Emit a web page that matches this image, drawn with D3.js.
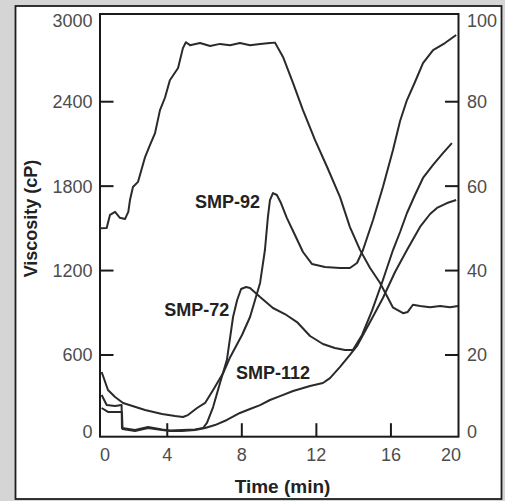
<!DOCTYPE html>
<html lang="en">

<head>
    <meta charset="UTF-8">
    <title>RVA viscosity profiles</title>
    <script src="https://d3js.org/d3.v7.min.js"></script>
    <style>
        html,
        body {
            margin: 0;
            padding: 0;
            background: #d5d5d5;
        }

        svg {
            display: block;
        }
    </style>
</head>

<body>
    <div class="content"></div>
    <script>
        // time (min), viscosity (cP)
        const smp92 = [
            [0.48, 479], [0.82, 351], [1.20, 301], [1.63, 259], [2.81, 209], [3.72, 181], [4.42, 166],
            [4.84, 159], [5.11, 173], [5.60, 223], [6.03, 259], [6.46, 351], [7.00, 472], [7.38, 586],
            [8.01, 742], [8.44, 870], [8.71, 991], [8.98, 1112], [9.24, 1346], [9.40, 1581], [9.51, 1701],
            [9.67, 1751], [9.88, 1737], [10.10, 1680], [10.42, 1573], [10.85, 1453], [11.28, 1332],
            [11.76, 1247], [12.46, 1225], [13.27, 1218], [13.80, 1218], [14.18, 1254], [14.50, 1346],
            [15.04, 1559], [15.57, 1794], [16.11, 2057], [16.49, 2263], [16.86, 2412], [17.29, 2540],
            [17.72, 2675], [18.26, 2767], [18.90, 2817], [19.50, 2874]
        ];
        const smp72 = [
            [0.48, 316], [0.75, 244], [1.20, 237], [1.55, 244], [1.57, 81], [2.27, 67], [2.97, 88],
            [3.72, 70], [4.15, 63], [4.79, 67], [5.49, 70], [5.92, 81], [6.13, 117], [6.46, 230],
            [6.83, 401], [7.20, 565], [7.53, 870], [7.75, 991], [7.96, 1069], [8.23, 1083], [8.44, 1076],
            [8.98, 1012], [9.67, 934], [10.31, 891], [10.96, 834], [11.66, 735], [12.35, 678],
            [12.99, 650], [13.53, 635], [13.96, 635], [14.45, 742], [14.98, 913], [15.57, 1133],
            [16.11, 1346], [16.49, 1474], [16.86, 1609], [17.29, 1737], [17.72, 1858], [18.26, 1951],
            [18.79, 2035], [19.27, 2106]
        ];
        const smp112 = [
            [0.48, 223], [0.82, 195], [1.46, 195], [1.57, 195], [1.60, 74], [2.27, 60], [2.97, 81],
            [3.72, 67], [4.15, 60], [4.79, 60], [5.49, 67], [6.03, 81], [6.56, 102], [7.20, 138],
            [7.90, 188], [8.44, 216], [8.98, 244], [9.51, 280], [10.05, 308], [10.75, 344], [11.66, 380],
            [12.35, 401], [12.73, 436], [13.27, 515], [13.80, 600], [14.18, 664], [14.88, 834],
            [15.57, 1005], [16.22, 1190], [16.86, 1346], [17.56, 1510], [18.10, 1602], [18.47, 1645],
            [19.01, 1680], [19.50, 1701]
        ];
        // temperature profile on the right-hand axis
        const temperature = [
            [0.39, 50.0], [0.75, 50.1], [0.93, 53.2], [1.20, 53.9], [1.46, 52.5], [1.73, 52.2],
            [1.91, 53.9], [2.00, 56.7], [2.16, 59.8], [2.43, 61.0], [2.81, 66.9], [3.07, 69.7],
            [3.34, 72.5], [3.61, 78.0], [3.88, 81.0], [4.14, 85.1], [4.58, 88.0], [4.84, 92.7],
            [5.00, 94.1], [5.22, 93.4], [5.76, 93.9], [6.30, 93.2], [6.83, 93.7], [7.37, 93.4],
            [7.90, 93.9], [8.44, 93.4], [8.98, 93.7], [9.51, 93.9], [9.78, 94.0], [10.21, 90.6],
            [10.75, 84.4], [11.28, 78.0], [11.93, 70.9], [12.57, 64.6], [13.27, 57.4], [13.80, 50.3],
            [14.34, 44.9], [14.88, 40.6], [15.41, 37.1], [16.10, 31.3], [16.65, 29.9], [16.90, 30.2],
            [17.18, 31.9], [17.56, 31.6], [18.10, 31.3], [18.64, 31.6], [19.17, 31.3], [19.60, 31.6]
        ];

        const seriesNames = ["SMP-92", "SMP-72", "SMP-112"];
        const timeTicks = [0, 4, 8, 12, 16, 20];
        const viscTicks = [0, 600, 1200, 1800, 2400, 3000];
        const tempTicks = [0, 20, 40, 60, 80, 100];

        const w = 505;
        const h = 501;
        const frame = { left: 100, right: 458.5, top: 14, bottom: 436.7 };
        const tickLen = 13.5;
        const ink = "#2a2a2a";

        const x = d3.scaleLinear().domain([0, 20]).range([92.7, 465.5]);
        const yL = d3.scaleLinear().domain([0, 3000]).range([439.4, 17.3]);
        const yR = d3.scaleLinear().domain([0, 100]).range([439.4, 17.3]);

        const svg = d3.select(".content")
            .append("svg")
            .attr("width", w)
            .attr("height", h);

        // white card
        svg.append("rect")
            .attr("x", 15.5)
            .attr("y", 6)
            .attr("width", 486)
            .attr("height", 493)
            .attr("fill", "white")
            .attr("stroke", "#1e1e1e")
            .attr("stroke-width", 1.8);

        // plot frame
        svg.append("rect")
            .attr("x", frame.left)
            .attr("y", frame.top)
            .attr("width", frame.right - frame.left)
            .attr("height", frame.bottom - frame.top)
            .attr("fill", "none")
            .attr("stroke", "#1a1a1a")
            .attr("stroke-width", 2);

        // inner ticks
        const ticks = svg.append("g")
            .attr("stroke", "#1a1a1a")
            .attr("stroke-width", 2);

        ticks.selectAll("line.xt")
            .data(timeTicks.slice(1, -1))
            .enter()
            .append("line")
            .attr("x1", d => x(d))
            .attr("x2", d => x(d))
            .attr("y1", frame.bottom)
            .attr("y2", frame.bottom - tickLen);

        ticks.selectAll("line.yl")
            .data(viscTicks.slice(1, -1))
            .enter()
            .append("line")
            .attr("x1", frame.left)
            .attr("x2", frame.left + tickLen)
            .attr("y1", d => yL(d))
            .attr("y2", d => yL(d));

        ticks.selectAll("line.yr")
            .data(tempTicks.slice(1, -1))
            .enter()
            .append("line")
            .attr("x1", frame.right)
            .attr("x2", frame.right - tickLen)
            .attr("y1", d => yR(d))
            .attr("y2", d => yR(d));

        // tick labels, the end ones are pulled inside the frame
        const tickFont = "'Liberation Sans Narrow', 'Liberation Sans', sans-serif";
        const last = timeTicks.length - 1;

        svg.selectAll("text.xl")
            .data(timeTicks)
            .enter()
            .append("text")
            .text(d => d)
            .attr("x", (d, i) => i === 0 ? frame.left : i === last ? frame.right + 2.5 : x(d))
            .attr("y", 461)
            .attr("text-anchor", (d, i) => i === 0 ? "start" : i === last ? "end" : "middle")
            .attr("font-family", tickFont)
            .attr("font-size", "18px")
            .attr("fill", "#4d4d4d");

        const labelY = (s, d, i) => i === 0 ? frame.bottom - 5 : i === last ? frame.top + 6.7 : s(d);

        svg.selectAll("text.yl")
            .data(viscTicks)
            .enter()
            .append("text")
            .text(d => d)
            .attr("x", 92.5)
            .attr("y", (d, i) => labelY(yL, d, i))
            .attr("dy", "0.36em")
            .attr("text-anchor", "end")
            .attr("font-family", tickFont)
            .attr("font-size", "18px")
            .attr("fill", "#4d4d4d");

        svg.selectAll("text.yr")
            .data(tempTicks)
            .enter()
            .append("text")
            .text(d => d)
            .attr("x", 467)
            .attr("y", (d, i) => labelY(yR, d, i))
            .attr("dy", "0.36em")
            .attr("text-anchor", "start")
            .attr("font-family", tickFont)
            .attr("font-size", "18px")
            .attr("fill", "#4d4d4d");

        // axis titles
        svg.append("text")
            .text("Time (min)")
            .attr("x", 282.5)
            .attr("y", 493)
            .attr("text-anchor", "middle")
            .attr("font-family", "'Liberation Sans', Arial, sans-serif")
            .attr("font-weight", "bold")
            .attr("font-size", "19px")
            .attr("fill", "#222");

        svg.append("text")
            .text("Viscosity (cP)")
            .attr("transform", "translate(36.5,218.5) rotate(-90)")
            .attr("text-anchor", "middle")
            .attr("font-family", "'Liberation Sans', Arial, sans-serif")
            .attr("font-weight", "bold")
            .attr("font-size", "18px")
            .attr("fill", "#222");

        // curves
        const lineL = d3.line().x(d => x(d[0])).y(d => yL(d[1]));
        const lineR = d3.line().x(d => x(d[0])).y(d => yR(d[1]));

        svg.append("path")
            .datum(temperature)
            .attr("d", lineR)
            .attr("fill", "none")
            .attr("stroke", ink)
            .attr("stroke-width", 2)
            .attr("stroke-linejoin", "round");

        svg.selectAll("path.smp")
            .data([smp92, smp72, smp112])
            .enter()
            .append("path")
            .attr("class", "smp")
            .attr("d", lineL)
            .attr("fill", "none")
            .attr("stroke", ink)
            .attr("stroke-width", 2)
            .attr("stroke-linejoin", "round");

        // series labels
        const labelAt = [[8.98, 1645, "end"], [7.33, 877, "end"], [7.69, 429, "start"]];

        svg.selectAll("text.series")
            .data(seriesNames)
            .enter()
            .append("text")
            .text(d => d)
            .attr("x", (d, i) => x(labelAt[i][0]))
            .attr("y", (d, i) => yL(labelAt[i][1]))
            .attr("text-anchor", (d, i) => labelAt[i][2])
            .attr("font-family", "'Liberation Sans', Arial, sans-serif")
            .attr("font-weight", "bold")
            .attr("font-size", "18px")
            .attr("fill", "#222");
    </script>
</body>

</html>
